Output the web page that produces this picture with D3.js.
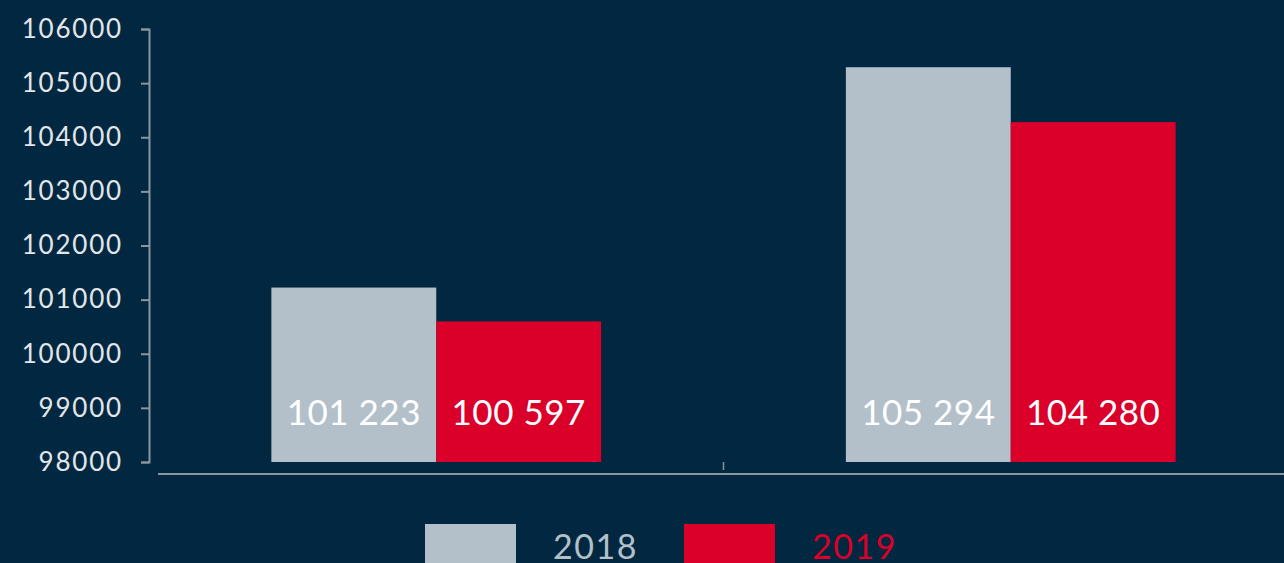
<!DOCTYPE html>
<html lang="en">
<head>
    <meta charset="UTF-8">
    <title>2018 vs 2019</title>
    <style>
        body{ margin:0; background-color:#012840; }
        svg{ display:block; }
        text{ font-family: Lato, "Open Sans", sans-serif; }
    </style>
</head>
<body>
    <script src="https://cdn.jsdelivr.net/npm/d3@7"></script>
    <script>
        // donnees
        const categories = ['A', 'B'];
        const series = ['2018', '2019'];
        const valeurs2018 = [101223, 105294];
        const valeurs2019 = [100597, 104280];
        const yTicks = [98000, 99000, 100000, 101000, 102000, 103000, 104000, 105000, 106000];

        const largeur = 1284, hauteur = 563;
        const couleurs = {'2018': '#b3c0ca', '2019': '#da0029'};

        let canevas = d3.select('body')
            .append('svg')
                .attr('width', largeur)
                .attr('height', hauteur)

        canevas.append('rect')
            .attr('width', largeur)
            .attr('height', hauteur)
            .attr('fill', '#012840')

        // echelles
        let y = d3.scaleLinear().domain([98000, 106000]).range([462, 29]);
        let x = d3.scaleBand().domain(categories).range([149, 1298])
            .paddingInner(0.426).paddingOuter(0.213);
        let xSerie = d3.scaleBand().domain(series).range([0, x.bandwidth()]);

        // axe y
        let axeY = canevas.append('g')
            .attr('transform', 'translate(149,0)')
            .call(d3.axisLeft(y).tickValues(yTicks).tickFormat(d3.format('d')).tickSizeOuter(0).tickSize(8).tickPadding(18))
        axeY.select('.domain').attr('stroke', '#8a959f').attr('stroke-width', 2)
        axeY.selectAll('.tick line').attr('stroke', '#8a959f').attr('stroke-width', 2)
        axeY.selectAll('.tick text')
            .attr('fill', '#e2e6ea')
            .style('font-size', '26px')
            .style('letter-spacing', '1.8px')
            .style('font-family', 'Lato, sans-serif')

        // axe x
        canevas.append('line')
            .attr('x1', 158).attr('x2', largeur)
            .attr('y1', 474).attr('y2', 474)
            .attr('stroke', '#8a959f').attr('stroke-width', 2)
        canevas.append('line')
            .attr('x1', (x('A') + x.bandwidth() + x('B')) / 2)
            .attr('x2', (x('A') + x.bandwidth() + x('B')) / 2)
            .attr('y1', 462).attr('y2', 470)
            .attr('stroke', '#8a959f').attr('stroke-width', 1.5)

        // barres
        let donnees = [];
        categories.forEach((c, i) => {
            donnees.push({cat: c, serie: '2018', valeur: valeurs2018[i]});
            donnees.push({cat: c, serie: '2019', valeur: valeurs2019[i]});
        });

        canevas.append('g').selectAll('rect')
            .data(donnees)
            .enter()
            .append('rect')
                .attr('x', d => x(d.cat) + xSerie(d.serie))
                .attr('y', d => y(d.valeur))
                .attr('width', xSerie.bandwidth())
                .attr('height', d => y(98000) - y(d.valeur))
                .attr('fill', d => couleurs[d.serie])

        let formatEspace = v => d3.format(',')(v).replace(/,/g, ' ');
        canevas.append('g').selectAll('text')
            .data(donnees)
            .enter()
            .append('text')
                .attr('x', d => x(d.cat) + xSerie(d.serie) + xSerie.bandwidth() / 2)
                .attr('y', y(98000) - 37)
                .attr('text-anchor', 'middle')
                .attr('fill', 'white')
                .style('font-size', '35px')
                .style('letter-spacing', '0.5px')
                .text(d => formatEspace(d.valeur))

        // legende
        let legende = canevas.append('g').selectAll('g')
            .data(series)
            .enter()
            .append('g')
                .attr('transform', (d, i) => 'translate(' + (425 + i * 259) + ',524)')
        legende.append('rect')
            .attr('width', 91)
            .attr('height', 45)
            .attr('fill', d => couleurs[d])
        legende.append('text')
            .attr('x', 128)
            .attr('y', 35)
            .attr('fill', d => couleurs[d])
            .style('font-size', '34px')
            .style('letter-spacing', '1.5px')
            .text(d => d)
    </script>
</body>
</html>
